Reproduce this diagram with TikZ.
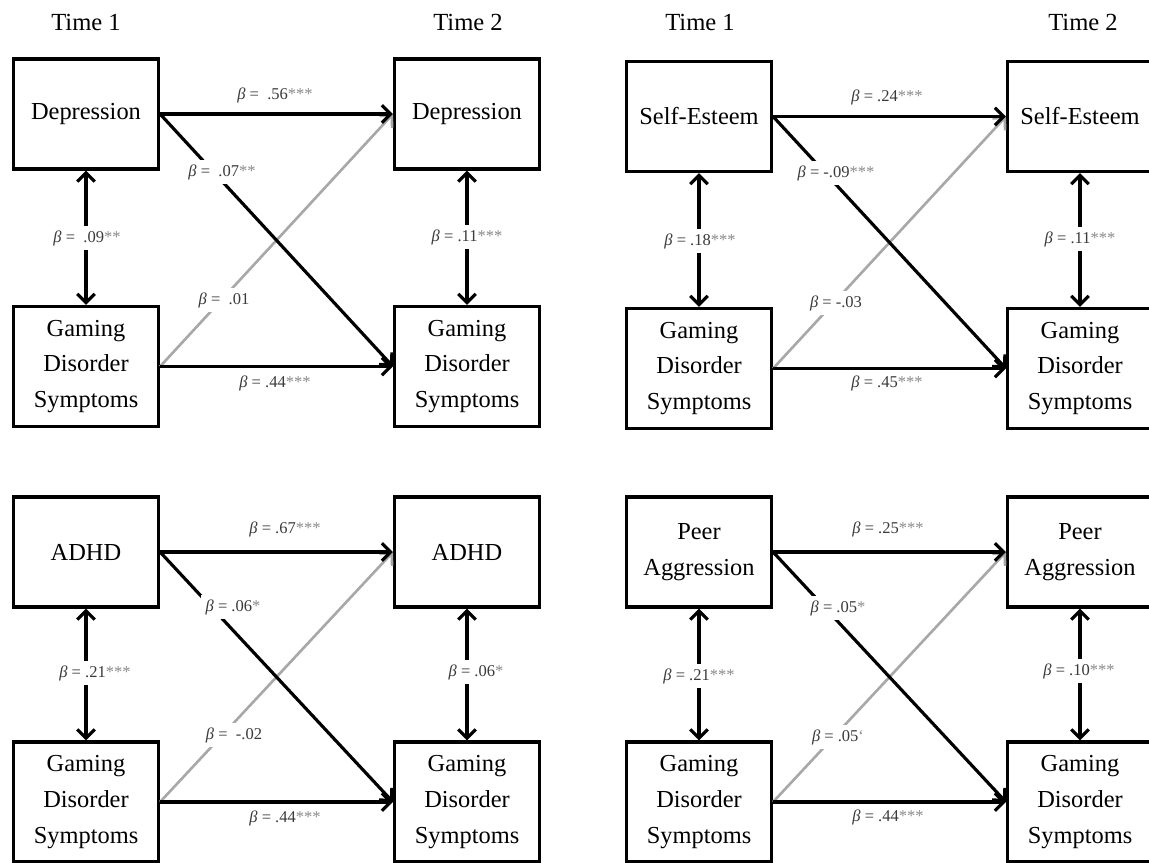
\documentclass[tikz,border=0pt]{standalone}
\usepackage{fontspec}
\setmainfont{Liberation Serif}
\usetikzlibrary{arrows.meta}

\definecolor{pathgray}{HTML}{A8A8A8}
\definecolor{numgray}{HTML}{3A3A3A}
\definecolor{stargray}{HTML}{8A8A8A}

\newcommand{\bcoef}[2]{{\itshape β} =#1{\color{stargray}#2}}

\begin{document}
\begin{tikzpicture}[x=0.02cm, y=-0.02cm,
    box/.style={draw, line width=1.8pt, minimum width=2.9cm, minimum height=2.2cm,
      inner sep=0pt, align=center, font=\fontsize{13.9}{20.4}\selectfont},
    tallbox/.style={box, minimum height=2.4cm},
    effect/.style={line width=1.8pt, -{Straight Barb[length=5pt,width=10pt]}},
    crosspath/.style={effect, draw=pathgray, line width=1.5pt},
    corr/.style={line width=1.8pt, {Straight Barb[length=5pt,width=10pt]}-{Straight Barb[length=5pt,width=10pt]}},
    lbl/.style={font=\fontsize{9.4}{11}\selectfont, text=numgray, inner sep=1pt},
    cutlbl/.style={lbl, fill=white, inner sep=2.5pt},
    timelbl/.style={font=\fontsize{14}{17}\selectfont}]

    \useasboundingbox (0,0) rectangle (1149,862);

    % Draw the time headers.
    \node[timelbl] (t1a) at (86,22) {Time 1};
    \node[timelbl] (t2a) at (468,22) {Time 2};
    \node[timelbl] (t1b) at (700,22) {Time 1};
    \node[timelbl] (t2b) at (1083,22) {Time 2};

    % Depression panel.
    \node[box] (dep1) at (86,114) {Depression};
    \node[box] (dep2) at (467,114) {Depression};
    \node[tallbox] (gdd1) at (86,366.5) {Gaming\\Disorder\\Symptoms};
    \node[tallbox] (gdd2) at (467,366.5) {Gaming\\Disorder\\Symptoms};
    \draw[crosspath] (gdd1.east) -- (dep2.west);
    \draw[effect] (dep1.east) -- (dep2.west);
    \draw[effect] (dep1.east) -- (gdd2.west);
    \draw[effect] (gdd1.east) -- (gdd2.west);
    \draw[corr] (dep1.south) -- (gdd1.north);
    \draw[corr] (dep2.south) -- (gdd2.north);
    \node[lbl] (la1) at (275,95) {\bcoef{\ \ .56}{***}};
    \node[cutlbl] (la2) at (222,172) {\bcoef{\ \ .07}{**}};
    \node[cutlbl] (la3) at (87,238) {\bcoef{\ \ .09}{**}};
    \node[cutlbl] (la4) at (467,237) {\bcoef{\ .11}{***}};
    \node[cutlbl] (la5) at (224,300) {\bcoef{\ \ .01}{}};
    \node[lbl] (la6) at (275,383) {\bcoef{ .44}{***}};

    % Self-esteem panel.
    \node[box] (se1) at (699,116.5) {Self-Esteem};
    \node[box] (se2) at (1080,116.5) {Self-Esteem};
    \node[tallbox] (gds1) at (699,368.5) {Gaming\\Disorder\\Symptoms};
    \node[tallbox] (gds2) at (1080,368.5) {Gaming\\Disorder\\Symptoms};
    \draw[crosspath] (gds1.east) -- (se2.west);
    \draw[effect] (se1.east) -- (se2.west);
    \draw[effect] (se1.east) -- (gds2.west);
    \draw[effect] (gds1.east) -- (gds2.west);
    \draw[corr] (se1.south) -- (gds1.north);
    \draw[corr] (se2.south) -- (gds2.north);
    \node[lbl] (lb1) at (887,97) {\bcoef{\ .24}{***}};
    \node[cutlbl] (lb2) at (836,173) {\bcoef{ -.09}{***}};
    \node[cutlbl] (lb3) at (700,241) {\bcoef{\ .18}{***}};
    \node[cutlbl] (lb4) at (1080,239) {\bcoef{\ .11}{***}};
    \node[cutlbl] (lb5) at (836,303) {\bcoef{ -.03}{}};
    \node[lbl] (lb6) at (887,383) {\bcoef{\ .45}{***}};

    % ADHD panel.
    \node[box] (adhd1) at (86,552) {ADHD};
    \node[box] (adhd2) at (467,552) {ADHD};
    \node[tallbox] (gda1) at (86,802) {Gaming\\Disorder\\Symptoms};
    \node[tallbox] (gda2) at (467,802) {Gaming\\Disorder\\Symptoms};
    \draw[crosspath] (gda1.east) -- (adhd2.west);
    \draw[effect] (adhd1.east) -- (adhd2.west);
    \draw[effect] (adhd1.east) -- (gda2.west);
    \draw[effect] (gda1.east) -- (gda2.west);
    \draw[corr] (adhd1.south) -- (gda1.north);
    \draw[corr] (adhd2.south) -- (gda2.north);
    \node[lbl] (lc1) at (285,529) {\bcoef{\ .67}{***}};
    \node[cutlbl] (lc2) at (233,607) {\bcoef{\ .06}{*}};
    \node[cutlbl] (lc3) at (95,673) {\bcoef{\ .21}{***}};
    \node[cutlbl] (lc4) at (476,672) {\bcoef{\ .06}{*}};
    \node[cutlbl] (lc5) at (234,735) {\bcoef{\ \ -.02}{}};
    \node[lbl] (lc6) at (285,818) {\bcoef{\ .44}{***}};

    % Peer aggression panel.
    \node[box] (peer1) at (699,552) {Peer\\Aggression};
    \node[box] (peer2) at (1080,552) {Peer\\Aggression};
    \node[tallbox] (gdp1) at (699,802) {Gaming\\Disorder\\Symptoms};
    \node[tallbox] (gdp2) at (1080,802) {Gaming\\Disorder\\Symptoms};
    \draw[crosspath] (gdp1.east) -- (peer2.west);
    \draw[effect] (peer1.east) -- (peer2.west);
    \draw[effect] (peer1.east) -- (gdp2.west);
    \draw[effect] (gdp1.east) -- (gdp2.west);
    \draw[corr] (peer1.south) -- (gdp1.north);
    \draw[corr] (peer2.south) -- (gdp2.north);
    \node[lbl] (ld1) at (888,529) {\bcoef{\ .25}{***}};
    \node[cutlbl] (ld2) at (838,608) {\bcoef{ .05}{*}};
    \node[cutlbl] (ld3) at (699,676) {\bcoef{ .21}{***}};
    \node[cutlbl] (ld4) at (1079,671) {\bcoef{\ .10}{***}};
    \node[cutlbl] (ld5) at (838,737) {\bcoef{ .05}{`}};
    \node[lbl] (ld6) at (888,817) {\bcoef{\ .44}{***}};
\end{tikzpicture}
\end{document}
